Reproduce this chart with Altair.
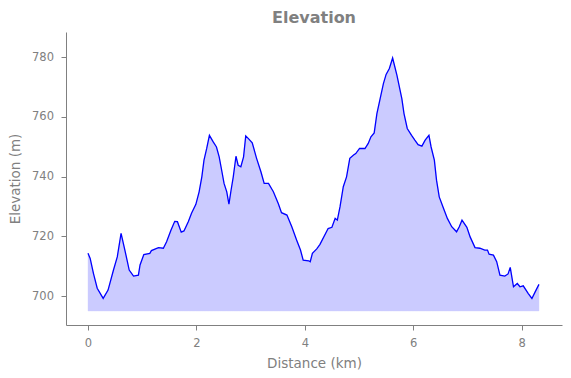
import altair as alt
import pandas as pd

distance_km = [0.00, 0.04, 0.10, 0.17, 0.28, 0.37, 0.47, 0.54, 0.61, 0.68, 0.76, 0.84, 0.93, 0.96,
               1.03, 1.14, 1.17, 1.30, 1.39, 1.45, 1.53, 1.60, 1.65, 1.72, 1.77, 1.85, 1.91, 1.99,
               2.05, 2.10, 2.14, 2.19, 2.24, 2.31, 2.37, 2.42, 2.46, 2.51, 2.56, 2.60, 2.64, 2.68,
               2.73, 2.77, 2.82, 2.87, 2.91, 2.96, 3.03, 3.11, 3.19, 3.25, 3.33, 3.42, 3.51, 3.57,
               3.67, 3.76, 3.85, 3.92, 3.97, 4.07, 4.10, 4.14, 4.22, 4.28, 4.43, 4.50, 4.56, 4.60,
               4.65, 4.71, 4.77, 4.83, 4.90, 4.94, 5.01, 5.11, 5.17, 5.22, 5.28, 5.33, 5.39, 5.45,
               5.50, 5.56, 5.62, 5.70, 5.79, 5.83, 5.89, 5.97, 6.03, 6.09, 6.16, 6.22, 6.29, 6.33,
               6.39, 6.43, 6.48, 6.56, 6.63, 6.71, 6.80, 6.85, 6.90, 6.99, 7.05, 7.14, 7.23, 7.32,
               7.37, 7.40, 7.48, 7.54, 7.60, 7.69, 7.75, 7.79, 7.85, 7.92, 7.97, 8.03, 8.12, 8.19,
               8.25, 8.32]
elevation_m = [714.3, 712.6, 707.6, 702.6, 699.2, 702.0, 708.7, 713.1, 721.0, 715.4, 708.7, 706.7, 707.0, 710.4,
               713.9, 714.3, 715.2, 716.2, 716.0, 718.2, 722.0, 725.0, 724.9, 721.4, 721.8, 724.9, 727.7, 730.7,
               734.9, 739.9, 745.5, 749.4, 753.8, 751.6, 749.9, 746.6, 742.7, 737.7, 734.9, 730.8, 735.5, 739.9,
               746.8, 743.8, 743.3, 746.6, 753.6, 752.7, 751.3, 746.1, 741.6, 737.7, 737.7, 734.9, 731.0, 727.9,
               727.1, 723.2, 718.7, 715.4, 712.0, 711.8, 711.5, 714.3, 715.8, 717.3, 722.6, 723.0, 726.0, 725.4,
               729.9, 736.6, 739.9, 746.1, 747.2, 747.7, 749.4, 749.4, 751.1, 753.3, 754.6, 761.1, 766.1, 771.1,
               774.2, 776.2, 779.7, 773.9, 766.1, 761.1, 756.1, 753.8, 752.2, 750.7, 750.2, 752.2, 753.8, 749.9,
               745.5, 738.8, 733.2, 729.3, 726.0, 723.2, 721.5, 723.2, 725.4, 723.0, 719.8, 716.2, 716.0, 715.4,
               715.4, 714.0, 713.7, 711.5, 707.0, 706.7, 707.4, 709.6, 703.1, 704.2, 703.1, 703.4, 700.9, 699.2,
               701.4, 703.9]
fill_base_m = 695
x_ticks = [0, 2, 4, 6, 8]
y_ticks = [700, 720, 740, 760, 780]
x_domain = [-0.406, 8.745]
y_domain = [690.3, 788.4]

df = pd.DataFrame({"dist": distance_km, "elev": elevation_m})

FONT = "DejaVu Sans"
GRAY = "#808080"

xenc = alt.X("dist:Q", scale=alt.Scale(domain=x_domain, nice=False, zero=False),
             axis=alt.Axis(values=x_ticks, title="Distance (km)", format="d"))
yenc = alt.Y("elev:Q", scale=alt.Scale(domain=y_domain, nice=False, zero=False),
             axis=alt.Axis(values=y_ticks, title="Elevation (m)", format="d"))

area = alt.Chart(df).mark_area(color="#0000ff", opacity=0.2, stroke="#0000ff",
                               strokeOpacity=0.35, strokeWidth=1).encode(
    x=xenc, y=yenc, y2=alt.datum(fill_base_m))
line = alt.Chart(df).mark_line(color="#0000ff", strokeWidth=1.3).encode(x=xenc, y=yenc)

chart = (area + line).properties(
    width=496, height=293,
    title=alt.TitleParams("Elevation", fontSize=16, fontWeight="bold", font=FONT,
                          color=GRAY, anchor="middle", offset=6),
    autosize=alt.AutoSizeParams(type="none"),
    padding={"left": 58, "top": 24, "right": 1, "bottom": 45},
).configure_view(stroke=None).configure_axis(
    grid=False, domainColor=GRAY, tickColor=GRAY, labelColor=GRAY, titleColor=GRAY,
    labelFont=FONT, titleFont=FONT, labelFontSize=11.5, titleFontSize=13.5,
    titleFontWeight="normal", tickSize=5, labelPadding=7.5, domainWidth=1, tickWidth=1,
).configure_axisY(titlePadding=9).configure_axisX(titlePadding=7)

chart.save("out.html", embed_options={"renderer": "svg", "actions": False})
